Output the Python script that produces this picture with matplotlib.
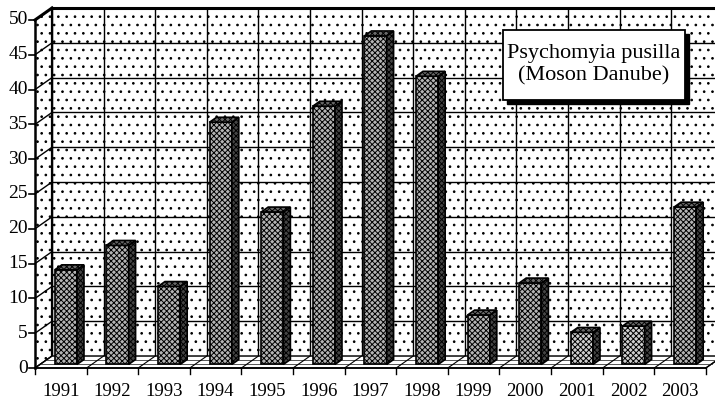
import matplotlib.pyplot as plt
from matplotlib.patches import Polygon, Rectangle

plt.rcParams['font.family'] = ['Liberation Serif', 'DejaVu Serif']
plt.rcParams['hatch.linewidth'] = 0.7

years = ['1991', '1992', '1993', '1994', '1995', '1996', '1997',
         '1998', '1999', '2000', '2001', '2002', '2003']
counts = [13.6, 17.1, 11.2, 34.8, 21.9, 37.1, 47.2,
          41.4, 7.1, 11.7, 4.6, 5.5, 22.6]
title_lines = ['Psychomyia pusilla', '(Moson Danube)']

ymax = 50
ystep = 5
# depth of the 3d box in data units (x: categories, y: values)
ddx, ddy = 0.33, 1.72
# bars sit inside the depth between these fractions
f0, f1 = 0.3, 0.71
half_w = 0.215

fig = plt.figure(figsize=(7.15, 4.04), dpi=100)
ax = fig.add_axes([0, 0, 1, 1])
ax.set_xlim(-1.178, 12.678)
ax.set_ylim(-5.17, 52.87)
ax.set_axis_off()

n = len(years)
x0, x1 = -0.5, n - 0.5

# back wall
ax.add_patch(Polygon([(x0 + ddx, ddy), (x1 + ddx, ddy), (x1 + ddx, ymax + ddy),
                      (x0 + ddx, ymax + ddy)], closed=True, facecolor='white',
                     edgecolor='black', hatch='..', lw=0, zorder=1))
for v in range(0, ymax + 1, ystep):
    ax.plot([x0 + ddx, x1 + ddx], [v + ddy, v + ddy], color='black', lw=1.0, zorder=2)
for i in range(n + 1):
    ax.plot([x0 + i + ddx] * 2, [ddy, ymax + ddy], color='black', lw=1.0, zorder=2)
ax.plot([x0 + ddx, x1 + ddx], [ymax + ddy] * 2, color='black', lw=2.2, zorder=3)

# left side wall
ax.add_patch(Polygon([(x0, 0), (x0, ymax), (x0 + ddx, ymax + ddy), (x0 + ddx, ddy)],
                     closed=True, facecolor='white', edgecolor='black', hatch='..',
                     lw=0, zorder=1))
for v in range(0, ymax + 1, ystep):
    ax.plot([x0, x0 + ddx], [v, v + ddy], color='black', lw=1.0, zorder=2)
ax.plot([x0, x0 + ddx], [ymax, ymax + ddy], color='black', lw=2.2, zorder=3)
ax.plot([x0 + ddx] * 2, [ddy, ymax + ddy], color='black', lw=1.6, zorder=3)

# floor
ax.add_patch(Polygon([(x0, 0), (x1, 0), (x1 + ddx, ddy), (x0 + ddx, ddy)], closed=True,
                     facecolor='white', edgecolor='black', lw=1.0, zorder=3))
for f in (0.35, 0.65):
    ax.plot([x0 + f * ddx, x1 + f * ddx], [f * ddy, f * ddy], color='#555555',
            lw=0.7, zorder=3)
for i in range(n + 1):
    ax.plot([x0 + i, x0 + i + ddx], [0, ddy], color='black', lw=0.8, zorder=3)

# bars
for i, v in enumerate(counts):
    left = i - half_w + f0 * ddx
    right = i + half_w + f0 * ddx
    base = f0 * ddy
    top = v + base
    bx = (f1 - f0) * ddx
    by = (f1 - f0) * ddy
    light = '#d0d0d0' if v < 7 else '#b4b4b4'
    ax.add_patch(Polygon([(left, base), (right, base), (right, top), (left, top)],
                         closed=True, facecolor=light, edgecolor='black', hatch='xxxxxx',
                         lw=1.2, zorder=5))
    ax.add_patch(Polygon([(right, base), (right + bx, base + by), (right + bx, top + by),
                          (right, top)], closed=True, facecolor='#454545',
                         edgecolor='black', hatch='xxxxxx', lw=1.2, zorder=5))
    ax.add_patch(Polygon([(left, top), (right, top), (right + bx, top + by),
                          (left + bx, top + by)], closed=True, facecolor='#6a6a6a',
                         edgecolor='black', hatch='xxxxxx', lw=1.2, zorder=5))

# front axes
ax.plot([x0, x0], [0, ymax], color='black', lw=1.8, zorder=6)
ax.plot([x0, x1], [0, 0], color='black', lw=1.2, zorder=6)
for v in range(0, ymax + 1, ystep):
    ax.plot([x0 - 0.11, x0], [v, v], color='black', lw=1.2, zorder=6)
    ax.text(x0 - 0.14, v, str(v), ha='right', va='center', fontsize=14, zorder=6)
for i in range(n + 1):
    ax.plot([x0 + i] * 2, [0, -0.9], color='black', lw=1.0, zorder=6)
for i, y in enumerate(years):
    ax.text(i, -2.1, y, ha='center', va='top', fontsize=13.5, zorder=6)

# species label box with drop shadow
bx0, by0, bw, bh = 503 / 715, 1 - 100 / 404, 182 / 715, 70 / 404
ax.add_patch(Rectangle((bx0 + 4 / 715, by0 - 4 / 404), bw, bh, transform=ax.transAxes,
                       facecolor='black', edgecolor='black', zorder=7))
ax.add_patch(Rectangle((bx0, by0), bw, bh, transform=ax.transAxes,
                       facecolor='white', edgecolor='black', lw=1.3, zorder=8))
ax.text(bx0 + bw / 2, by0 + bh / 2, '\n'.join(title_lines), transform=ax.transAxes,
        ha='center', va='center', fontsize=16, linespacing=1.25, zorder=9)

fig.savefig('out.png', dpi=100)
